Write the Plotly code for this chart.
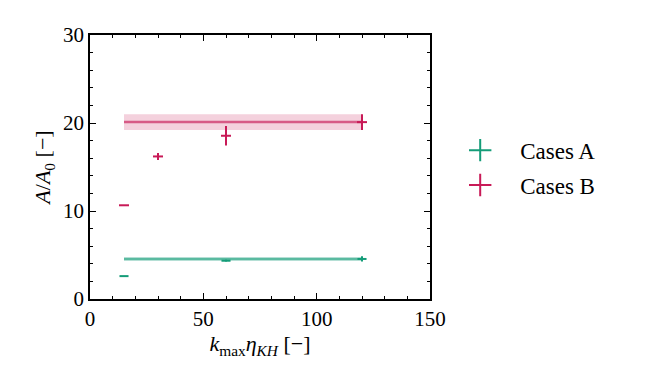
import plotly.graph_objects as go

# Data
a_x = [15, 60, 120]
a_y = [2.6, 4.35, 4.55]
a_yerr = [0.0, 0.1, 0.3]
a_xerr = [2.0, 2.0, 2.0]
a_mean = 4.55
a_band = 0.2

b_x = [15, 30, 60, 120]
b_y = [10.65, 16.2, 18.55, 20.1]
b_yerr = [0.0, 0.4, 1.1, 0.9]
b_xerr = [2.2, 2.2, 2.2, 2.2]
b_mean = 20.1
b_band = 0.9

line_x = [15, 120]

green = "#149c78"
red = "#c81a57"
font = "'Liberation Serif', 'DejaVu Serif', Times, serif"

fig = go.Figure()

def band(mean, half, color_fill, color_line):
    fig.add_trace(go.Scatter(x=line_x, y=[mean + half] * 2, mode="lines",
                             line=dict(width=0, color=color_fill), showlegend=False,
                             hoverinfo="skip"))
    fig.add_trace(go.Scatter(x=line_x, y=[mean - half] * 2, mode="lines",
                             line=dict(width=0, color=color_fill), fill="tonexty",
                             fillcolor=color_fill, showlegend=False, hoverinfo="skip"))
    fig.add_trace(go.Scatter(x=line_x, y=[mean] * 2, mode="lines",
                             line=dict(width=2.5, color=color_line), showlegend=False,
                             hoverinfo="skip"))

band(b_mean, b_band, "rgba(200,26,87,0.2)", "rgba(200,26,87,0.65)")
band(a_mean, a_band, "rgba(20,156,120,0.25)", "rgba(20,156,120,0.6)")

def pts(x, y, xe, ye, color):
    fig.add_trace(go.Scatter(
        x=x, y=y, mode="markers", marker=dict(size=0.1, color=color, opacity=0),
        error_x=dict(type="data", array=xe, width=0, thickness=2, color=color),
        error_y=dict(type="data", array=ye, width=0, thickness=2, color=color),
        showlegend=False))

pts(a_x, a_y, a_xerr, a_yerr, green)
pts(b_x, b_y, b_xerr, b_yerr, red)

for name, color in [("Cases A", green), ("Cases B", red)]:
    fig.add_trace(go.Scatter(
        x=[None], y=[None], mode="markers", name=name, legendgroup=name,
        marker=dict(symbol="cross-thin", size=16, color=color,
                    line=dict(width=2, color=color))))

axis_common = dict(
    showline=True, linecolor="black", linewidth=1.5, mirror="ticks",
    ticks="inside", ticklen=6, tickwidth=1.2, tickcolor="black",
    showgrid=False, zeroline=False,
    tickfont=dict(family=font, size=21, color="black"),
    minor=dict(ticks="inside", ticklen=3.5, tickwidth=1, tickcolor="black", showgrid=False),
)

fig.update_xaxes(range=[0, 150], tickvals=[0, 50, 100, 150], minor_dtick=10,
                 title=dict(text="<i>k</i><sub>max</sub><i>η</i><sub><i>KH</i></sub> [−]",
                            font=dict(family=font, size=22, color="black"), standoff=6),
                 **axis_common)
fig.update_yaxes(range=[0, 30], tickvals=[0, 10, 20, 30], minor_dtick=2,
                 title=dict(text="<i>A</i>/<i>A</i><sub>0</sub> [−]",
                            font=dict(family=font, size=22, color="black"), standoff=6),
                 **axis_common)

fig.update_layout(
    width=648, height=389,
    margin=dict(l=82, r=226, t=27, b=98, autoexpand=False),
    plot_bgcolor="white", paper_bgcolor="white",
    font=dict(family=font, color="black"),
    legend=dict(x=1.03, y=0.645, xanchor="left", yanchor="top",
                font=dict(family=font, size=23, color="black"),
                itemwidth=70, tracegroupgap=2, traceorder="grouped",
                bgcolor="rgba(0,0,0,0)"),
)

fig.write_html("out.html")
